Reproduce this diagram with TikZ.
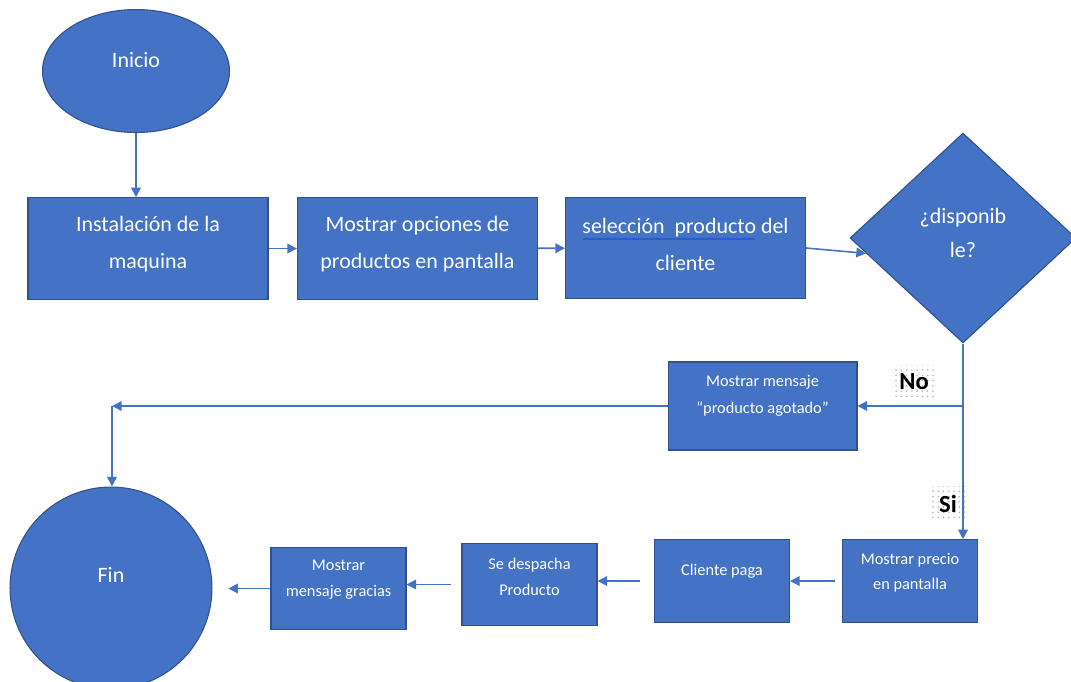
\documentclass[tikz,border=0pt]{standalone}
\usepackage{fontspec}
\setmainfont{Carlito}
\usetikzlibrary{arrows.meta,positioning,shapes.geometric,patterns}
\definecolor{ofblue}{HTML}{4472C4}
\definecolor{ofedge}{HTML}{2F528F}
\definecolor{ofmark}{HTML}{2A5BD0}
% extra depth under the last line, lifts the text inside its shape
\newcommand{\hueco}[1]{\rule[-#1]{0pt}{0pt}}

\begin{document}
\begin{tikzpicture}[x=0.02cm, y=-0.02cm,
  caja/.style={rectangle, draw=ofedge, fill=ofblue, line width=0.6pt, text=white, align=center, inner sep=2pt},
  grande/.style={caja, minimum width=4.8cm, minimum height=2.03cm, font=\fontsize{12.5}{21}\selectfont},
  chica/.style={caja, minimum width=2.7cm, minimum height=1.65cm, font=\fontsize{9.3}{14.5}\selectfont},
  term/.style={draw=ofedge, fill=ofblue, line width=0.6pt, text=white, font=\fontsize{12.5}{14}\selectfont},
  flecha/.style={draw=ofblue, line width=0.9pt, -{Triangle[length=5.5pt, width=5.5pt]}},
  etiq/.style={font=\bfseries\fontsize{14}{16}\selectfont, pattern=dots, pattern color=black!30, inner xsep=4.5pt, inner ysep=5pt},
]
% Page frame: 1071 x 681 px, one unit = one pixel
\useasboundingbox (0,0) rectangle (1071,681);

% Top row
\node[term, ellipse, minimum width=3.74cm, minimum height=2.46cm] (inicio) at (136,71) {Inicio\hueco{12.5pt}};
\node[grande] (instal) at (148,248.5) {Instalación de la\\maquina\hueco{6.5pt}};
\node[grande] (opciones) at (417.5,248.5) {Mostrar opciones de\\productos en pantalla\hueco{6.5pt}};
\node[grande] (selec) at (685.5,248) {selección~ producto del\\cliente\hueco{4.5pt}};
\draw[ofmark, line width=0.8pt] (583,239) -- (755,239);
\node[term, diamond, inner sep=0pt, minimum width=4.52cm, minimum height=4.2cm, align=center,
  font=\fontsize{12.5}{19.5}\selectfont] (disp) at (963,238) {¿disponib\\le?\hueco{6pt}};

% Branch "No"
\node[chica, minimum width=3.78cm, minimum height=1.76cm, font=\fontsize{9.3}{15.5}\selectfont] (agotado) at (762.5,406) {Mostrar mensaje\\“producto agotado”\hueco{13pt}};
\node[etiq] (no) at (914,382) {No};
\node[etiq] (si) at (948,504) {Si};

% Bottom row
\node[chica] (precio) at (910,581) {Mostrar precio\\en pantalla\hueco{11pt}};
\node[chica] (cliente) at (722,581) {Cliente paga\hueco{13pt}};
\node[chica] (despacha) at (529.5,584.5) {Se despacha\\Producto\hueco{8.5pt}};
\node[chica] (gracias) at (338.5,588.5) {Mostrar\\mensaje gracias\hueco{11.5pt}};
\node[term, circle, minimum size=4.04cm] (fin) at (111,588) {Fin\hueco{15pt}};

% Connectors
\draw[flecha] (inicio.south) -- (inicio.south |- instal.north);
\draw[flecha] (instal) -- (opciones);
\draw[flecha] (opciones) -- (selec);
\draw[flecha] (selec.east) -- (disp.189);
\coordinate (rama) at (disp.south |- agotado.east);
\draw[flecha] (disp.south) -- (disp.south |- precio.north);
\draw[flecha] (rama) -- (agotado.east);
\coordinate (esq) at (112,406);
\draw[flecha] (agotado.west) -- (esq);
\draw[flecha] (esq) -- (esq |- fin.north);
\draw[flecha, shorten <=4pt] (precio.west) -- (precio.west -| cliente.east);
\draw[flecha, shorten <=8pt] (cliente.west) -- (cliente.west -| despacha.east);
\draw[flecha, shorten <=6pt] (despacha.west) -- (despacha.west -| gracias.east);
\draw[flecha, shorten >=9pt] (gracias.west) -- (gracias.west -| fin.east);
\end{tikzpicture}
\end{document}
